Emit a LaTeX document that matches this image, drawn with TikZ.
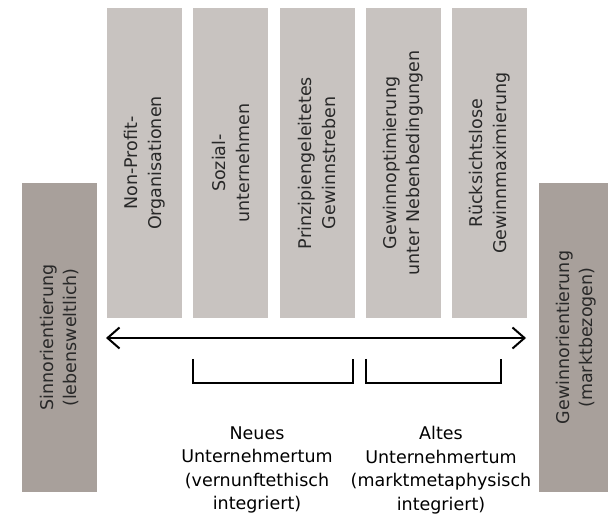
\documentclass[tikz,border=0pt]{standalone}
\usepackage{fontspec}
\setmainfont{DejaVu Sans}
\usetikzlibrary{arrows.meta}
\definecolor{boxlight}{RGB}{200,195,192}
\definecolor{boxdark}{RGB}{168,160,155}
\definecolor{textgray}{RGB}{40,40,40}
\begin{document}
\begin{tikzpicture}[x=1pt, y=-1pt,
	txt/.style={font=\fontsize{17.5}{23.5}\selectfont, align=center, text=textgray},
	column/.style={txt, fill=boxlight, rotate=90, minimum width=310pt, minimum height=75pt, inner sep=0pt},
	pole/.style={txt, fill=boxdark, rotate=90, minimum width=309pt, minimum height=75pt, inner sep=0pt},
	bracket/.style={line width=2pt},
	barb/.tip={Straight Barb[length=12pt, width=21pt]}]
	\clip (0,0) rectangle (608,518);
	
	% poles
	\node[pole] (sinn) at (59.5, 337.5) {Sinnorientierung\\(lebensweltlich)};
	\node[pole] (gewinn) at (576, 337.5) {Gewinnorientierung\\(marktbezogen)};
	
	% columns
	\foreach \i/\t in {1/{Non-Profit-\\Organisationen}, 2/{Sozial-\\unternehmen},
		3/{Prinzipiengeleitetes\\Gewinnstreben}, 4/{Gewinnoptimierung\\unter Nebenbedingungen},
		5/{Rücksichtslose\\Gewinnmaximierung}}{
		\node[column] (col\i) at ({144.5+86.25*(\i-1)}, 163) {\t};
	}
	
	% scale
	\coordinate (left) at (106, 338);
	\coordinate (right) at (526, 338);
	\draw[barb-barb, line width=2pt] (left) -- (right);
	
	% brackets
	\coordinate (neuA) at (193, 359);
	\coordinate (neuB) at (353, 359);
	\coordinate (altA) at (366, 359);
	\coordinate (altB) at (501, 359);
	\draw[bracket] (neuA) -- ++(0, 24) -| (neuB);
	\draw[bracket] (altA) -- ++(0, 24) -| (altB);
	
	\node[txt, text=black] (neu) at (257, 470) {Neues\\Unternehmertum\\(vernunftethisch\\integriert)};
	\node[txt, text=black] (alt) at (441, 470) {Altes\\Unternehmertum\\(marktmetaphysisch\\integriert)};
\end{tikzpicture}
\end{document}
